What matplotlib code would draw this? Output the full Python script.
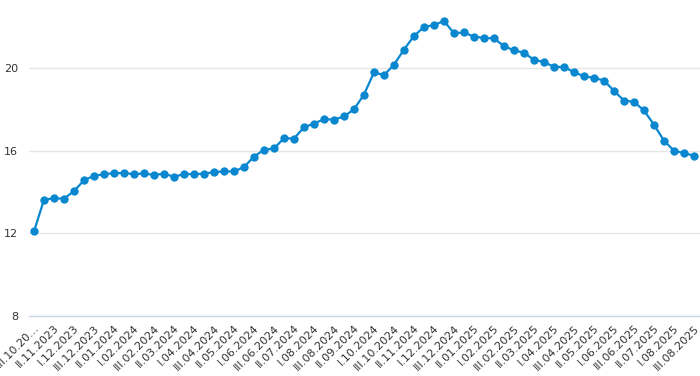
import matplotlib
matplotlib.use("Agg")
import matplotlib.pyplot as plt

values = [12.10, 13.63, 13.70, 13.68, 14.05, 14.57, 14.79, 14.86, 14.92, 14.92,
          14.87, 14.90, 14.83, 14.89, 14.74, 14.87, 14.87, 14.89, 14.97, 15.00,
          15.00, 15.21, 15.72, 16.05, 16.11, 16.61, 16.59, 17.14, 17.32, 17.53,
          17.51, 17.66, 18.01, 18.72, 19.80, 19.66, 20.17, 20.90, 21.56, 21.99,
          22.09, 22.28, 21.69, 21.73, 21.52, 21.47, 21.44, 21.07, 20.86, 20.75,
          20.40, 20.30, 20.06, 20.06, 19.80, 19.61, 19.53, 19.40, 18.90, 18.43,
          18.37, 17.95, 17.26, 16.49, 16.00, 15.89, 15.76]

tick_labels = ["III.10.20…", "II.11.2023", "I.12.2023", "III.12.2023", "II.01.2024",
               "I.02.2024", "III.02.2024", "II.03.2024", "I.04.2024", "III.04.2024",
               "II.05.2024", "I.06.2024", "III.06.2024", "II.07.2024", "I.08.2024",
               "III.08.2024", "II.09.2024", "I.10.2024", "III.10.2024", "II.11.2024",
               "I.12.2024", "III.12.2024", "II.01.2025", "I.02.2025", "III.02.2025",
               "II.03.2025", "I.04.2025", "III.04.2025", "II.05.2025", "I.06.2025",
               "III.06.2025", "II.07.2025", "I.08.2025", "III.08.2025"]

y_ticks = [8, 12, 16, 20]

fig = plt.figure(figsize=(7, 3.76), dpi=100)
ax = fig.add_axes([29/700, 60/376, 1 - 29/700, 1 - 60/376])

x = list(range(len(values)))
ax.plot(x, values, color="#0a87cf", linewidth=1.6, marker="o", markersize=6,
        markeredgewidth=0, zorder=3, clip_on=False)

ax.set_xlim(-0.5, 66.6)
ax.set_ylim(8, 23.3)
ax.set_yticks(y_ticks)
ax.set_yticklabels([str(v) for v in y_ticks])
ax.grid(axis="y", color="#e6e6e6", linewidth=1)
ax.set_axisbelow(True)

tick_pos = list(range(0, len(values), 2))
ax.set_xticks(tick_pos)
ax.set_xticklabels(tick_labels, rotation=45, ha="right", va="top",
                   rotation_mode="anchor", fontsize=8, color="#333333")
for lab in ax.get_xticklabels():
    lab.set_x(lab.get_position()[0])

ax.tick_params(axis="x", length=0, pad=5)
ax.tick_params(axis="y", length=0, pad=8, labelsize=8, labelcolor="#333333")

for s in ["top", "right", "left"]:
    ax.spines[s].set_visible(False)
ax.spines["bottom"].set_color("#ccd6eb")
ax.spines["bottom"].set_linewidth(1)

fig.savefig("out.png", dpi=100)
